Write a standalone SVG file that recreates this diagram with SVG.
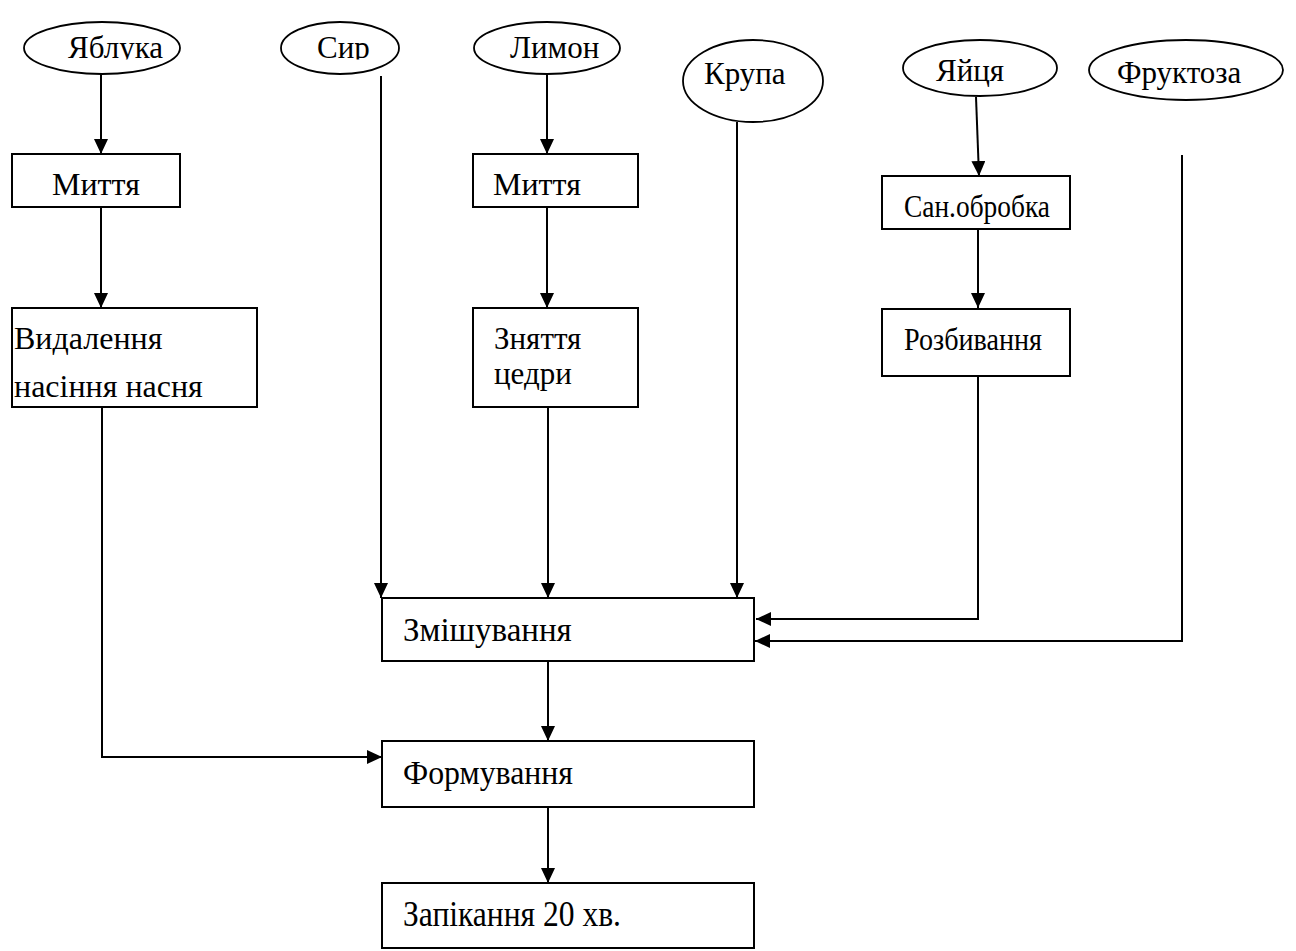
<svg xmlns="http://www.w3.org/2000/svg" width="1296" height="951" viewBox="0 0 1296 951">
<style>
.sh{fill:#fff;stroke:#000;stroke-width:2}
.el{fill:#fff;stroke:#000;stroke-width:1.8}
.t{font-family:"Liberation Serif","Times New Roman",serif;font-size:31px;fill:#000}
.c{fill:none;stroke:#000;stroke-width:2}
</style>
<defs>
<marker id="ah" markerUnits="userSpaceOnUse" markerWidth="14" markerHeight="15" refX="15" refY="7" orient="auto">
<path d="M0,0 L15,7 L0,14 Z" fill="#000"/>
</marker>
<clipPath id="clipTop"><rect x="0" y="0" width="1296" height="59.5"/></clipPath>
</defs>
<rect width="1296" height="951" fill="#fff"/>
<g id="connectors">
<line class="c" x1="101" y1="74" x2="101" y2="154" marker-end="url(#ah)"/>
<line class="c" x1="101" y1="207" x2="101" y2="308" marker-end="url(#ah)"/>
<polyline class="c" points="102,407 102,757 382,757" marker-end="url(#ah)"/>
<line class="c" x1="381" y1="76" x2="381" y2="598" marker-end="url(#ah)"/>
<line class="c" x1="547" y1="74" x2="547" y2="154" marker-end="url(#ah)"/>
<line class="c" x1="547" y1="207" x2="547" y2="308" marker-end="url(#ah)"/>
<line class="c" x1="548" y1="407" x2="548" y2="598" marker-end="url(#ah)"/>
<line class="c" x1="737" y1="122" x2="737" y2="598" marker-end="url(#ah)"/>
<line class="c" x1="976" y1="97" x2="979" y2="176" marker-end="url(#ah)"/>
<line class="c" x1="978" y1="229" x2="978" y2="308" marker-end="url(#ah)"/>
<polyline class="c" points="978,376 978,619 756,619" marker-end="url(#ah)"/>
<polyline class="c" points="1182,155 1182,641 755,641" marker-end="url(#ah)"/>
<line class="c" x1="548" y1="661" x2="548" y2="741" marker-end="url(#ah)"/>
<line class="c" x1="548" y1="807" x2="548" y2="883" marker-end="url(#ah)"/>
</g>
<g id="n-yabluka">
<ellipse class="el" cx="102" cy="48" rx="78" ry="26"/>
<text class="t" x="68" y="58" clip-path="url(#clipTop)">Яблука</text>
</g>
<g id="n-syr">
<ellipse class="el" cx="340" cy="48" rx="59" ry="26"/>
<text class="t" x="317" y="58" clip-path="url(#clipTop)">Сир</text>
</g>
<g id="n-lymon">
<ellipse class="el" cx="547" cy="48" rx="73" ry="26"/>
<text class="t" x="510" y="58" clip-path="url(#clipTop)">Лимон</text>
</g>
<g id="n-krupa">
<ellipse class="el" cx="753" cy="81" rx="70" ry="41"/>
<text class="t" x="704" y="84">Крупа</text>
</g>
<g id="n-yaitsia">
<ellipse class="el" cx="980" cy="68" rx="77" ry="28"/>
<text class="t" x="936" y="81">Яйця</text>
</g>
<g id="n-fruktoza">
<ellipse class="el" cx="1186" cy="70" rx="97" ry="30"/>
<text class="t" x="1117" y="83">Фруктоза</text>
</g>
<g id="n-myttia1">
<rect class="sh" x="12" y="154" width="168" height="53"/>
<text class="t" x="52" y="195" style="font-size:32px">Миття</text>
</g>
<g id="n-vydalennia">
<rect class="sh" x="12" y="308" width="245" height="99"/>
<text class="t" x="14" y="349" style="font-size:32px">Видалення</text>
<text class="t" x="14" y="397" style="font-size:32px">насіння насня</text>
</g>
<g id="n-myttia2">
<rect class="sh" x="473" y="154" width="165" height="53"/>
<text class="t" x="493" y="195" style="font-size:32px">Миття</text>
</g>
<g id="n-zniattia">
<rect class="sh" x="473" y="308" width="165" height="99"/>
<text class="t" x="494" y="349">Зняття</text>
<text class="t" x="494" y="384">цедри</text>
</g>
<g id="n-sanobrobka">
<rect class="sh" x="882" y="176" width="188" height="53"/>
<text class="t" x="904" y="217" textLength="146" lengthAdjust="spacingAndGlyphs">Сан.обробка</text>
</g>
<g id="n-rozbyvannia">
<rect class="sh" x="882" y="309" width="188" height="67"/>
<text class="t" x="904" y="350" textLength="138" lengthAdjust="spacingAndGlyphs">Розбивання</text>
</g>
<g id="n-zmishuvannia">
<rect class="sh" x="382" y="598" width="372" height="63"/>
<text class="t" x="403" y="641" style="font-size:33px">Змішування</text>
</g>
<g id="n-formuvannia">
<rect class="sh" x="382" y="741" width="372" height="66"/>
<text class="t" x="403" y="784" style="font-size:34px" textLength="170" lengthAdjust="spacingAndGlyphs">Формування</text>
</g>
<g id="n-zapikannia">
<rect class="sh" x="382" y="883" width="372" height="65"/>
<text class="t" x="403" y="926" style="font-size:35px" textLength="218" lengthAdjust="spacingAndGlyphs">Запікання 20 хв.</text>
</g>
</svg>
